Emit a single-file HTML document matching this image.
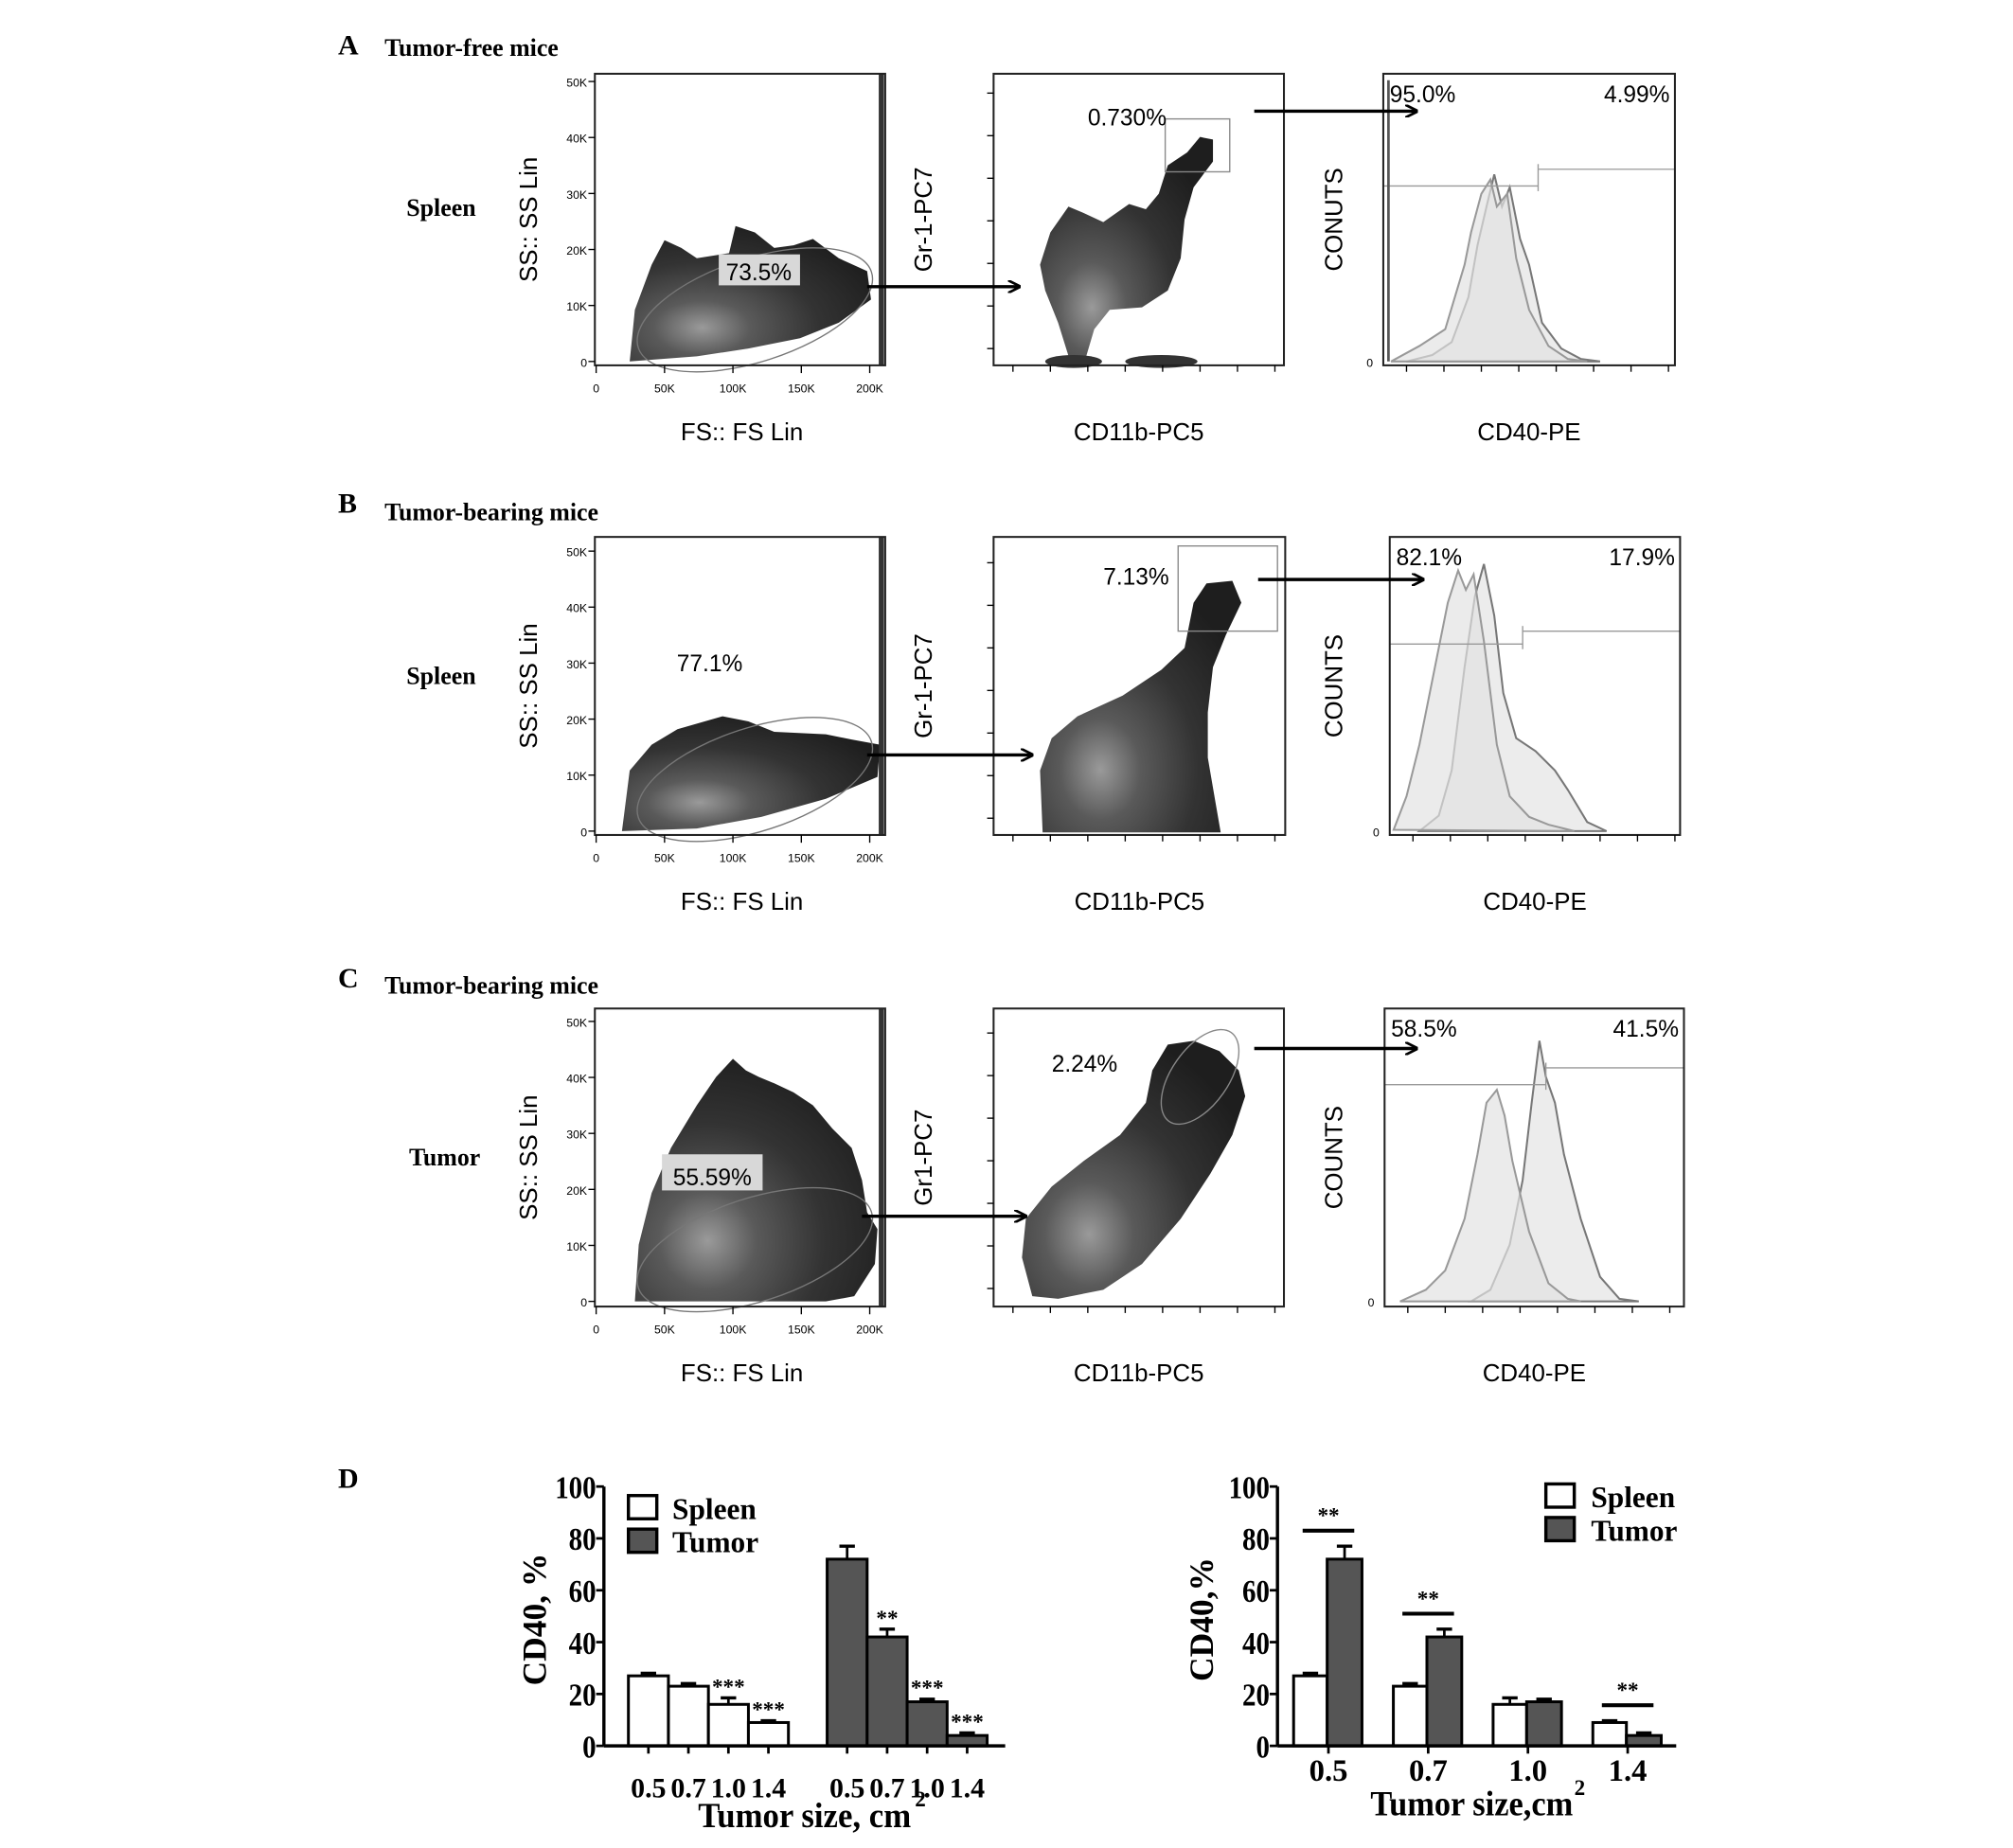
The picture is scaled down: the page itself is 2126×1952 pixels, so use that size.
<!DOCTYPE html>
<html><head><meta charset="utf-8">
<style>
html,body{margin:0;padding:0;background:#fff}
svg{display:block}
.sa{font-family:"Liberation Sans",sans-serif}
.se{font-family:"Liberation Serif",serif;font-weight:bold}
</style></head>
<body>
<svg id="fig" width="2126" height="1952" viewBox="0 0 1560 1432" xmlns="http://www.w3.org/2000/svg">
<defs>
<radialGradient id="blob" cx="0.3" cy="0.75" r="0.8">
<stop offset="0" stop-color="#9a9a9a"/><stop offset="0.25" stop-color="#5a5a5a"/><stop offset="0.6" stop-color="#333"/><stop offset="1" stop-color="#1e1e1e"/>
</radialGradient>
<marker id="ah" markerWidth="10" markerHeight="10" refX="9" refY="5" orient="auto" markerUnits="userSpaceOnUse"><path d="M0,0 L10,5 L0,10" fill="none" stroke="#000" stroke-width="2"/></marker>
</defs>

<g class="se" font-size="22">
<text x="262" y="42">A</text>
<text x="262" y="397">B</text>
<text x="262" y="765">C</text>
<text x="262" y="1153">D</text>
</g>
<g class="se" font-size="19">
<text x="298" y="43">Tumor-free mice</text>
<text x="298" y="403">Tumor-bearing  mice</text>
<text x="298" y="770">Tumor-bearing  mice</text>
<text x="315" y="167">Spleen</text>
<text x="315" y="530">Spleen</text>
<text x="317" y="903">Tumor</text>
</g>

<g id="flow"></g>
<g id="barsL"></g>
<g id="barsR"></g>
</svg>
<script>
const NS='http://www.w3.org/2000/svg';
function mk(p,t,a,txt){const e=document.createElementNS(NS,t);for(const k in a)e.setAttribute(k,a[k]);if(txt!==undefined)e.textContent=txt;p.appendChild(e);return e;}
const flow=document.getElementById('flow');

const rows=[
 {dy:0,top:57,bot:283,zero:280,p2l:770,p2r:995,p3l:1072,p3r:1298,g1:'A',
  blob1:'M488,280 L492,240 L505,205 L515,186 L528,192 L540,200 L565,196 L570,175 L585,180 L600,192 L615,190 L630,185 L650,200 L672,210 L675,232 L650,250 L620,262 L580,270 L540,276 Z',
  pct1:'73.5%',pct1x:588,pct1y:217,box1:[557,197,63,24],
  blob2:'M830,282 L820,250 L810,225 L806,205 L814,180 L828,160 L840,165 L855,172 L875,158 L888,162 L898,150 L905,128 L920,118 L930,106 L940,108 L940,125 L925,145 L918,170 L915,200 L905,225 L885,238 L860,240 L848,255 L840,282 Z',
  gate2:'rect',gate2v:[903,92,50,41],pct2:'0.730%',pct2x:843,pct2y:97,
  h1:[[1078,280],[1100,268],[1120,255],[1135,205],[1140,180],[1148,150],[1155,139],[1160,160],[1168,150],[1175,200],[1185,240],[1200,268],[1215,278],[1230,280]],
  h2:[[1090,280],[1110,275],[1125,265],[1138,230],[1145,190],[1152,160],[1158,135],[1164,160],[1170,145],[1178,185],[1185,205],[1195,250],[1210,270],[1225,278],[1240,280]],
  hg:[144,1192,131],p3a:'95.0%',p3b:'4.99%',lab3:'CONUTS',yl2:'Gr-1-PC7',
  arr1:[672,222,790,222],arr2:[972,86,1098,86]},
 {dy:-3,top:419,bot:650,zero:647,p2l:770,p2r:996,p3l:1077,p3r:1302,g1:'B',
  blob1:'M482,647 L488,600 L505,580 L525,568 L560,558 L580,562 L600,570 L640,572 L660,576 L682,580 L680,605 L640,622 L590,636 L540,645 Z',
  pct1:'77.1%',pct1x:550,pct1y:523,box1:null,
  blob2:'M808,648 L806,600 L815,575 L835,558 L870,542 L900,522 L918,505 L925,470 L935,455 L955,453 L962,470 L950,495 L940,520 L936,555 L936,590 L942,625 L946,648 Z',
  gate2:'rect',gate2v:[913,426,77,66],pct2:'7.13%',pct2x:855,pct2y:456,
  h1:[[1080,646],[1090,620],[1100,580],[1112,520],[1122,470],[1130,445],[1136,460],[1142,448],[1150,500],[1160,580],[1170,620],[1185,636],[1200,642],[1220,647]],
  h2:[[1100,647],[1115,635],[1125,600],[1135,520],[1143,465],[1150,440],[1158,480],[1165,540],[1175,575],[1190,585],[1205,600],[1215,615],[1230,640],[1245,647]],
  hg:[502,1180,492],p3a:'82.1%',p3b:'17.9%',lab3:'COUNTS',yl2:'Gr-1-PC7',
  arr1:[672,588,800,588],arr2:[975,452,1103,452]},
 {dy:-5.5,top:787,bot:1018,zero:1014,p2l:770,p2r:995,p3l:1073,p3r:1305,g1:'C',
  blob1:'M492,1014 L495,970 L505,930 L520,895 L540,862 L555,840 L568,826 L578,835 L588,840 L600,845 L615,852 L630,862 L645,880 L660,895 L668,920 L672,945 L680,958 L678,985 L662,1010 L640,1014 Z',
  pct1:'55.59%',pct1x:552,pct1y:924,box1:[513,900,78,28],
  blob2:'M800,1010 L792,980 L795,950 L815,925 L840,905 L868,885 L888,860 L893,835 L905,815 L925,812 L945,820 L960,835 L965,855 L955,885 L938,915 L915,950 L885,985 L855,1005 L820,1012 Z',
  gate2:'ellipse',gate2v:[930,840,42,22],pct2:'2.24%',pct2x:815,pct2y:836,
  h1:[[1085,1014],[1105,1005],[1120,990],[1135,950],[1145,900],[1152,860],[1160,850],[1166,870],[1172,905],[1185,960],[1200,1000],[1215,1012],[1225,1014]],
  h2:[[1140,1014],[1155,1005],[1170,970],[1180,920],[1187,860],[1193,812],[1198,840],[1205,860],[1212,900],[1225,950],[1240,995],[1255,1012],[1270,1014]],
  hg:[846,1198,833],p3a:'58.5%',p3b:'41.5%',lab3:'COUNTS',yl2:'Gr1-PC7',
  arr1:[668,948,795,948],arr2:[972,818,1098,818]}
];
rows.forEach((r,i)=>{
  const g=mk(flow,'g',{transform:`translate(0 ${r.dy})`});
  
  
  const p1l=461,p1r=686;
  mk(g,'path',{d:r.blob1,fill:'url(#blob)'});
  mk(g,'line',{x1:p1r-3,y1:r.top,x2:p1r-3,y2:r.bot,stroke:'#333','stroke-width':4});
  mk(g,'ellipse',{cx:585,cy:r.zero-40,rx:95,ry:40,transform:`rotate(-18 585 ${r.zero-40})`,fill:'none',stroke:'#777','stroke-width':1});
  const box1=mk(g,'rect',{x:p1l,y:r.top,width:p1r-p1l,height:r.bot-r.top,fill:'none',stroke:'#222','stroke-width':1.5});
  
  
  if(r.box1) mk(g,'rect',{x:r.box1[0],y:r.box1[1],width:r.box1[2],height:r.box1[3],fill:'#d8d8d8'});
  mk(g,'text',{x:r.pct1x,y:r.pct1y,'text-anchor':'middle','font-size':18,class:'sa'},r.pct1);
  const ky=['0','10K','20K','30K','40K','50K'];
  ky.forEach((t,k)=>{const y=r.zero-k*43.4;mk(g,'line',{x1:p1l-5,y1:y,x2:p1l,y2:y,stroke:'#000'});mk(g,'text',{x:p1l-6,y:y+4,'text-anchor':'end','font-size':9,class:'sa'},t);});
  const kx=['0','50K','100K','150K','200K'];
  kx.forEach((t,k)=>{const x=462+k*53;mk(g,'line',{x1:x,y1:r.bot,x2:x,y2:r.bot+6,stroke:'#000'});mk(g,'text',{x:x,y:r.bot+21,'text-anchor':'middle','font-size':9,class:'sa'},t);});
  mk(g,'text',{x:575,y:r.bot+58,'text-anchor':'middle','font-size':19,class:'sa'},'FS:: FS Lin');
  mk(g,'text',{x:0,y:0,transform:`translate(416 ${(r.top+r.bot)/2}) rotate(-90)`,'text-anchor':'middle','font-size':19,class:'sa'},'SS:: SS Lin');
  mk(g,'path',{d:r.blob2,fill:'url(#blob)'});
  if(i===0){mk(g,'ellipse',{cx:832,cy:280,rx:22,ry:5,fill:'#333'});mk(g,'ellipse',{cx:900,cy:280,rx:28,ry:5,fill:'#333'});}
  if(r.gate2==='rect') mk(g,'rect',{x:r.gate2v[0],y:r.gate2v[1],width:r.gate2v[2],height:r.gate2v[3],fill:'none',stroke:'#888'});
  else mk(g,'ellipse',{cx:r.gate2v[0],cy:r.gate2v[1],rx:r.gate2v[2],ry:r.gate2v[3],transform:`rotate(-55 ${r.gate2v[0]} ${r.gate2v[1]})`,fill:'none',stroke:'#888'});
  mk(g,'text',{x:r.pct2x,y:r.pct2y,'font-size':18,class:'sa'},r.pct2);
  const b2=mk(g,'rect',{x:r.p2l,y:r.top,width:r.p2r-r.p2l,height:r.bot-r.top,fill:'none',stroke:'#222','stroke-width':1.5});
  
  
  for(let k=0;k<8;k++){const x=r.p2l+15+k*29;mk(g,'line',{x1:x,y1:r.bot,x2:x,y2:r.bot+5,stroke:'#000'});}
  for(let k=0;k<7;k++){const y=r.zero-10-k*33;mk(g,'line',{x1:r.p2l-5,y1:y,x2:r.p2l,y2:y,stroke:'#000'});}
  mk(g,'text',{x:(r.p2l+r.p2r)/2,y:r.bot+58,'text-anchor':'middle','font-size':19,class:'sa'},'CD11b-PC5');
  mk(g,'text',{x:0,y:0,transform:`translate(722 ${(r.top+r.bot)/2}) rotate(-90)`,'text-anchor':'middle','font-size':19,class:'sa'},r.yl2);
  const pts=a=>a.map(p=>p.join(',')).join(' ');
  mk(g,'polygon',{points:pts(r.h2),fill:'#ececec',stroke:'#777','stroke-width':1.5});
  mk(g,'polygon',{points:pts(r.h1),fill:'#e2e2e2','fill-opacity':0.7,stroke:'#999','stroke-width':1.5});
  mk(g,'line',{x1:r.p3l,y1:r.hg[0],x2:r.hg[1],y2:r.hg[0],stroke:'#999'});
  mk(g,'line',{x1:r.hg[1],y1:r.hg[2]-4,x2:r.hg[1],y2:r.hg[0]+4,stroke:'#999'});
  mk(g,'line',{x1:r.hg[1],y1:r.hg[2],x2:r.p3r,y2:r.hg[2],stroke:'#999'});
  if(i===0) mk(g,'line',{x1:1076,y1:r.zero,x2:1076,y2:r.top+5,stroke:'#555','stroke-width':2});
  const b3=mk(g,'rect',{x:r.p3l,y:r.top,width:r.p3r-r.p3l,height:r.bot-r.top,fill:'none',stroke:'#222','stroke-width':1.5});
  
  
  mk(g,'text',{x:r.p3l+5,y:r.top+22,'font-size':18,class:'sa'},r.p3a);
  mk(g,'text',{x:r.p3r-4,y:r.top+22,'text-anchor':'end','font-size':18,class:'sa'},r.p3b);
  for(let k=0;k<8;k++){const x=r.p3l+18+k*29;mk(g,'line',{x1:x,y1:r.bot,x2:x,y2:r.bot+5,stroke:'#000'});}
  mk(g,'text',{x:r.p3l-8,y:r.zero+4,'text-anchor':'end','font-size':9,class:'sa'},'0');
  mk(g,'text',{x:(r.p3l+r.p3r)/2,y:r.bot+58,'text-anchor':'middle','font-size':19,class:'sa'},'CD40-PE');
  mk(g,'text',{x:0,y:0,transform:`translate(1040 ${(r.top+r.bot)/2}) rotate(-90)`,'text-anchor':'middle','font-size':19,class:'sa'},r.lab3);
  [r.arr1,r.arr2].forEach(a=>mk(g,'line',{x1:a[0],y1:a[1],x2:a[2],y2:a[3],stroke:'#000','stroke-width':2.5,'marker-end':'url(#ah)'}));
});

// ---------- Bar charts (panel D) ----------
const sizes=['0.5','0.7','1.0','1.4'];
const spleenVals=[27,23,16,9];
const spleenErr=[1,1,2.5,0.7];
const tumorVals=[72,42,17,4];
const tumorErr=[5,3,1,1];
const yTicks=[0,20,40,60,80,100];
const sigLeftSpleen=['','','***','***'];
const sigLeftTumor=['','**','***','***'];
const sigRight=['**','**','','**'];

const Y0=1353,Y1=1152;
const yS=v=>Y0-(v/100)*(Y0-Y1);

function axisY(g,x){
  mk(g,'line',{x1:x,y1:Y1,x2:x,y2:Y0,stroke:'#000','stroke-width':2.5});
  yTicks.forEach(t=>{mk(g,'line',{x1:x-6,y1:yS(t),x2:x,y2:yS(t),stroke:'#000','stroke-width':2});
    const tx=mk(g,'text',{x:x-6,y:yS(t)+9,'text-anchor':'end','font-size':25,class:'se',transform:`translate(${x-6} 0) scale(0.85 1) translate(${-(x-6)} 0)`},t);
    
    });
}
function bar(g,x,w,v,e,fill,name){
  const r=mk(g,'rect',{x:x,y:yS(v),width:w,height:Y0-yS(v),fill:fill,stroke:'#000','stroke-width':2.2});
  
  
  const cx=x+w/2;
  mk(g,'line',{x1:cx,y1:yS(v),x2:cx,y2:yS(v+e),stroke:'#000','stroke-width':2});
  mk(g,'line',{x1:cx-6,y1:yS(v+e),x2:cx+6,y2:yS(v+e),stroke:'#000','stroke-width':2.5});
}
function legend(g,x,y,tx){
  const a=mk(g,'rect',{x:x,y:y,width:22,height:18,fill:'#fff',stroke:'#000','stroke-width':2.5});
  
  mk(g,'text',{x:tx,y:y+18,'font-size':23,class:'se'},'Spleen');
  const b=mk(g,'rect',{x:x,y:y+26,width:22,height:18,fill:'#555',stroke:'#000','stroke-width':2.5});
  
  mk(g,'text',{x:tx,y:y+44,'font-size':23,class:'se'},'Tumor');
}
(function(){
  const g=document.getElementById('barsL');
  
  
  const ax=468,w=31;
  const xs=k=>487+k*31, xt=k=>641+k*31;
  spleenVals.forEach((v,k)=>{bar(g,xs(k),w,v,spleenErr[k],'#fff','bar-spleen-'+sizes[k]);
    if(sigLeftSpleen[k])mk(g,'text',{x:xs(k)+w/2,y:yS(v+spleenErr[k])-3,'text-anchor':'middle','font-size':17,class:'se'},sigLeftSpleen[k]);
    mk(g,'line',{x1:xs(k)+w/2,y1:Y0,x2:xs(k)+w/2,y2:Y0+6,stroke:'#000','stroke-width':2});
    mk(g,'text',{x:xs(k)+w/2,y:1393,'text-anchor':'middle','font-size':22,class:'se'},sizes[k]);});
  tumorVals.forEach((v,k)=>{bar(g,xt(k),w,v,tumorErr[k],'#555','bar-tumor-'+sizes[k]);
    if(sigLeftTumor[k])mk(g,'text',{x:xt(k)+w/2,y:yS(v+tumorErr[k])-3,'text-anchor':'middle','font-size':17,class:'se'},sigLeftTumor[k]);
    mk(g,'line',{x1:xt(k)+w/2,y1:Y0,x2:xt(k)+w/2,y2:Y0+6,stroke:'#000','stroke-width':2});
    mk(g,'text',{x:xt(k)+w/2,y:1393,'text-anchor':'middle','font-size':22,class:'se'},sizes[k]);});
  mk(g,'line',{x1:ax,y1:Y0,x2:779,y2:Y0,stroke:'#000','stroke-width':2.5});
  axisY(g,ax);
  legend(g,487,1159,521);
  const t=mk(g,'text',{x:541,y:1416,'font-size':27,class:'se',textLength:165,lengthAdjust:'spacingAndGlyphs'},'Tumor size, cm');
  
  mk(g,'text',{x:709,y:1400,'font-size':17,class:'se'},'2');
  const yt=mk(g,'text',{x:0,y:0,transform:'translate(423 1255) rotate(-90)','text-anchor':'middle','font-size':26,class:'se'},'CD40, %');
  
})();
(function(){
  const g=document.getElementById('barsR');
  
  
  const ax=990,w=26;
  const cx=k=>1029.5+k*77.3;
  sizes.forEach((s,k)=>{
    bar(g,cx(k)-w-1,w,spleenVals[k],spleenErr[k],'#fff','bar-spleen-'+s);
    bar(g,cx(k)-1,w+1,tumorVals[k],tumorErr[k],'#555','bar-tumor-'+s);
    mk(g,'line',{x1:cx(k),y1:Y0,x2:cx(k),y2:Y0+6,stroke:'#000','stroke-width':2});
    mk(g,'text',{x:cx(k),y:1380,'text-anchor':'middle','font-size':24,class:'se'},s);
    if(sigRight[k]){const top=Math.max(spleenVals[k]+spleenErr[k],tumorVals[k]+tumorErr[k]);const ly=yS(top)-12;
      mk(g,'line',{x1:cx(k)-20,y1:ly,x2:cx(k)+20,y2:ly,stroke:'#000','stroke-width':3});
      mk(g,'text',{x:cx(k),y:ly-6,'text-anchor':'middle','font-size':17,class:'se'},sigRight[k]);}
  });
  mk(g,'line',{x1:ax,y1:Y0,x2:1299,y2:Y0,stroke:'#000','stroke-width':2.5});
  axisY(g,ax);
  legend(g,1198,1150,1233);
  const t=mk(g,'text',{x:1062,y:1407,'font-size':27,class:'se',textLength:157,lengthAdjust:'spacingAndGlyphs'},'Tumor size,cm');
  
  mk(g,'text',{x:1220,y:1391,'font-size':17,class:'se'},'2');
  const yt=mk(g,'text',{x:0,y:0,transform:'translate(940 1255) rotate(-90)','text-anchor':'middle','font-size':26,class:'se'},'CD40,%');
  
})();
</script>
</body></html>
